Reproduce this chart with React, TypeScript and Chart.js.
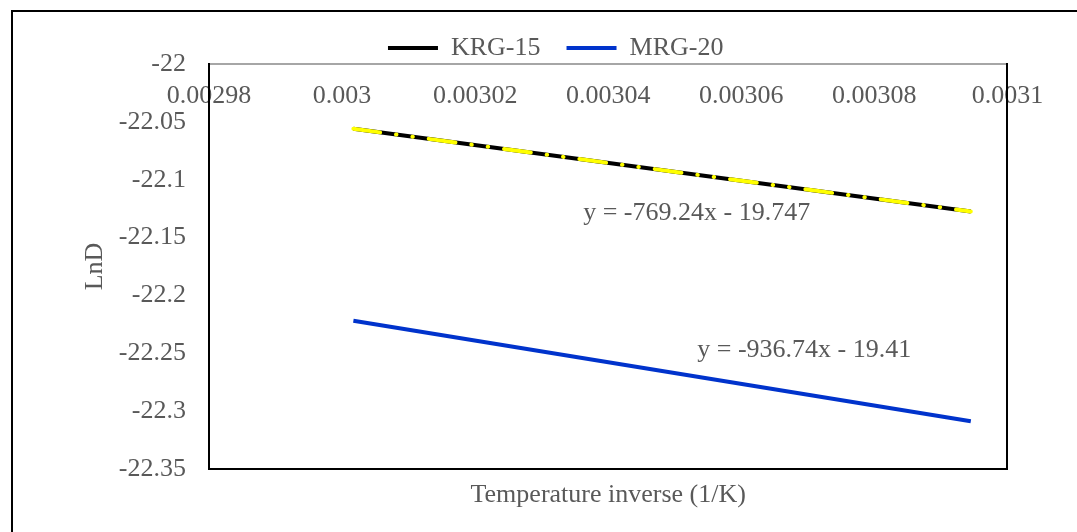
import React, { useEffect, useRef } from "react";
import { Chart, registerables } from "chart.js";

Chart.register(...registerables);

// ---- data ----
const invT = [0.0030017, 0.0030945]; // 1/K
const krg15 = [-22.056, -22.1274];
const mrg20 = [-22.2218, -22.3087];
const seriesNames = ["KRG-15", "MRG-20"];
const xTicks = [0.00298, 0.003, 0.00302, 0.00304, 0.00306, 0.00308, 0.0031];
const yTicks = [-22, -22.05, -22.1, -22.15, -22.2, -22.25, -22.3, -22.35];
const equations = ["y = -769.24x - 19.747", "y = -936.74x - 19.41"];
const xTitle = "Temperature inverse (1/K)";
const yTitle = "LnD";

// ---- styling / placement ----
const FONT = "'Liberation Serif', 'Times New Roman', serif";
const TXT = "#595959";
const eqAnchors = [
  { x: 0.00303624, y: -22.1348 },
  { x: 0.00305338, y: -22.2532 },
];

const X_MIN = 0.00298;
const X_MAX = 0.0031;
const Y_MIN = -22.35;
const Y_MAX = -22;

const equationPlugin = {
  id: "equations",
  afterDatasetsDraw(chart: any) {
    const { ctx, scales } = chart;
    ctx.save();
    ctx.font = `26px ${FONT}`;
    ctx.fillStyle = TXT;
    ctx.textAlign = "left";
    ctx.textBaseline = "alphabetic";
    equations.forEach((t, i) => {
      const px = scales.x.getPixelForValue(eqAnchors[i].x);
      const py = scales.y.getPixelForValue(eqAnchors[i].y);
      ctx.fillText(t, px, py);
    });
    ctx.restore();
  },
};

export default function App() {
  const ref = useRef<HTMLCanvasElement | null>(null);

  useEffect(() => {
    if (!ref.current) return;
    const pts = (ys: number[]) => invT.map((x, i) => ({ x, y: ys[i] }));
    const font = { family: FONT, size: 26 };

    const chart = new Chart(ref.current, {
      type: "line",
      data: {
        datasets: [
          {
            label: seriesNames[0],
            data: pts(krg15),
            borderColor: "#000000",
            backgroundColor: "#000000",
            borderWidth: 4,
            pointRadius: 0,
            order: 1,
          },
          {
            label: seriesNames[1],
            data: pts(mrg20),
            borderColor: "#0033cc",
            backgroundColor: "#0033cc",
            borderWidth: 4,
            pointRadius: 0,
            order: 2,
          },
          {
            label: "Linear (" + seriesNames[0] + ")",
            data: pts(krg15),
            borderColor: "#ffff00",
            backgroundColor: "#ffff00",
            borderWidth: 4,
            borderDash: [27, 16, 0.5, 16, 0.5, 16],
            borderCapStyle: "round",
            pointRadius: 0,
            order: 0,
          },
        ],
      },
      options: {
        responsive: false,
        animation: false,
        events: [],
        layout: { padding: { left: 76, right: 41.6, top: 9, bottom: 17.8 } },
        plugins: {
          tooltip: { enabled: false },
          legend: {
            position: "top",
            maxHeight: 55,
            labels: {
              boxWidth: 50,
              boxHeight: 4,
              padding: 26,
              color: TXT,
              font,
              filter: (item: any) => item.datasetIndex !== 2,
              generateLabels: (c: any) =>
                (Chart.defaults.plugins.legend.labels as any)
                  .generateLabels(c)
                  .map((l: any) => ({ ...l, fillStyle: l.strokeStyle, lineWidth: 0, lineDash: [] })),
            },
          },
        },
        scales: {
          x: {
            type: "linear",
            position: { y: Y_MAX } as any,
            min: X_MIN,
            max: X_MAX,
            afterFit: (s: any) => {
              s.height = 0;
            },
            afterBuildTicks: (s: any) => {
              s.ticks = xTicks.map((v) => ({ value: v }));
            },
            ticks: {
              callback: (v: any) => String(v),
              color: TXT,
              font,
              padding: 17,
              autoSkip: false,
              maxRotation: 0,
            },
            grid: { display: false, drawTicks: false },
            border: { display: true, color: "#a6a6a6", width: 2 },
          },
          xb: {
            type: "linear",
            axis: "x",
            position: "bottom",
            min: X_MIN,
            max: X_MAX,
            ticks: { display: false },
            grid: { display: false, drawTicks: false },
            border: { display: true, color: "#000000", width: 2, z: 1 },
            title: {
              display: true,
              text: xTitle,
              color: TXT,
              font,
              padding: { top: 11, bottom: 3 },
            },
          },
          y: {
            type: "linear",
            position: "left",
            min: Y_MIN,
            max: Y_MAX,
            afterBuildTicks: (s: any) => {
              s.ticks = yTicks.map((v) => ({ value: v }));
            },
            afterFit: (s: any) => {
              s.width = 133;
            },
            ticks: {
              callback: (v: any) => String(v),
              color: TXT,
              font,
              padding: 23,
              autoSkip: false,
            },
            grid: { display: false, drawTicks: false },
            border: { display: true, color: "#000000", width: 2, z: 1 },
            title: {
              display: true,
              text: yTitle,
              color: TXT,
              font,
              padding: { top: 4, bottom: 8 },
            },
          },
          yr: {
            type: "linear",
            axis: "y",
            position: "right",
            min: Y_MIN,
            max: Y_MAX,
            ticks: { display: false },
            grid: { display: false, drawTicks: true, tickLength: 28 },
            border: { display: true, color: "#000000", width: 2, z: 1 },
          },
        } as any,
      },
      plugins: [equationPlugin],
    });
    return () => chart.destroy();
  }, []);

  return (
    <div
      style={{
        position: "fixed",
        left: 0,
        top: 0,
        width: 1077,
        height: 532,
        overflow: "hidden",
        background: "#ffffff",
      }}
    >
      <div
        style={{
          position: "absolute",
          left: 11,
          top: 10,
          width: 2000,
          height: 2000,
          border: "2px solid #000000",
        }}
      />
      <canvas
        ref={ref}
        width={1077}
        height={532}
        style={{ position: "absolute", left: 0, top: 0, width: 1077, height: 532 }}
      />
    </div>
  );
}
